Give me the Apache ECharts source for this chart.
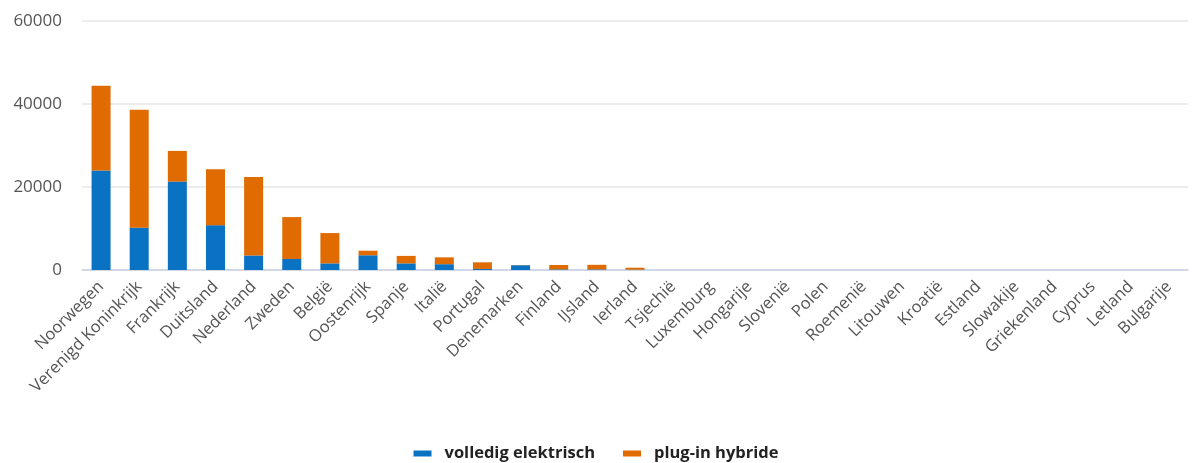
<!DOCTYPE html>
<html>
<head>
<meta charset="utf-8">
<script src="https://cdn.jsdelivr.net/npm/echarts@6/dist/echarts.min.js"></script>
<style>
html,body{margin:0;padding:0;background:#fff;}
#chart{width:1192px;height:463px;}
</style>
</head>
<body>
<div id="chart"></div>
<script>
const categories = ['Noorwegen','Verenigd Koninkrijk','Frankrijk','Duitsland','Nederland','Zweden','België','Oostenrijk','Spanje','Italië','Portugal','Denemarken','Finland','IJsland','Ierland','Tsjechië','Luxemburg','Hongarije','Slovenië','Polen','Roemenië','Litouwen','Kroatië','Estland','Slowakije','Griekenland','Cyprus','Letland','Bulgarije'];
const volledigElektrisch = [24000,10200,21300,10800,3500,2650,1600,3550,1600,1400,250,1150,150,150,80,0,0,0,0,0,0,0,0,0,0,0,0,0,0];
const pluginHybride = [20400,28400,7400,13500,18900,10100,7300,1100,1800,1650,1600,50,1050,1100,470,0,0,0,0,0,0,0,0,0,0,0,0,0,0];
const yTicks = [0,20000,40000,60000];

const chart = echarts.init(document.getElementById('chart'));
chart.setOption({
  animation:false,
  textStyle:{fontFamily:'Open Sans'},
  grid:{left:82,right:4,top:21,bottom:193,containLabel:false},
  legend:{
    bottom:-4,left:'center',
    icon:'rect',itemWidth:18,itemHeight:6,itemGap:28,
    textStyle:{fontFamily:'Open Sans',fontWeight:'bold',fontSize:16.5,color:'#222',padding:[0,0,0,8]},
    data:['volledig elektrisch','plug-in hybride']
  },
  xAxis:{
    type:'category',data:categories,
    axisLine:{lineStyle:{color:'#c9d0e6',width:1.5}},
    axisTick:{show:false},
    axisLabel:{rotate:45,interval:0,fontSize:16.5,color:'#555',margin:14}
  },
  yAxis:{
    type:'value',min:yTicks[0],max:yTicks[yTicks.length-1],interval:20000,
    axisLine:{show:false},axisTick:{show:false},
    splitLine:{lineStyle:{color:'#e6e6e6',width:1.5}},
    axisLabel:{fontSize:17,color:'#555',margin:20,formatter:function(v){return String(v);}}
  },
  series:[
    {name:'volledig elektrisch',type:'bar',stack:'t',data:volledigElektrisch,barWidth:19,itemStyle:{color:'#0a72c2'}},
    {name:'plug-in hybride',type:'bar',stack:'t',data:pluginHybride,barWidth:19,itemStyle:{color:'#e06b00'}}
  ]
});
</script>
</body>
</html>
